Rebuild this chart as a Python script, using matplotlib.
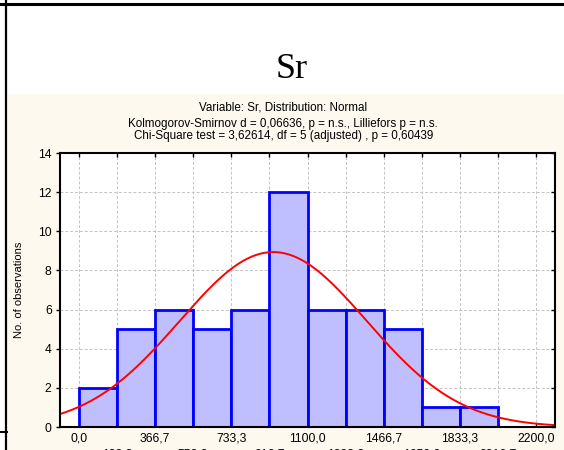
import numpy as np
import matplotlib
matplotlib.use("Agg")
import matplotlib.pyplot as plt
from matplotlib.patches import Rectangle
from matplotlib.lines import Line2D

# histogram of Sr with fitted normal curve
bin_left = [0.0, 183.33, 366.67, 550.0, 733.33, 916.67, 1100.0, 1283.33, 1466.67, 1650.0, 1833.33]
counts = [2, 5, 6, 5, 6, 12, 6, 6, 5, 1, 1]
bin_width = 183.33
fit_mean = 935.0
fit_sd = 450.0

tick_pos = [0.0, 183.33, 366.67, 550.0, 733.33, 916.67, 1100.0, 1283.33,
            1466.67, 1650.0, 1833.33, 2016.67, 2200.0]
tick_text = ["0,0", "183,3", "366,7", "550,0", "733,3", "916,7", "1100,0",
             "1283,3", "1466,7", "1650,0", "1833,3", "2016,7", "2200,0"]
y_ticks = [0, 2, 4, 6, 8, 10, 12, 14]

header = ["Variable: Sr, Distribution: Normal",
          "Kolmogorov-Smirnov d = 0,06636, p = n.s., Lilliefors p = n.s.",
          "Chi-Square test = 3,62614, df = 5 (adjusted) , p = 0,60439"]

plt.rcParams['font.family'] = ['Liberation Sans', 'DejaVu Sans']

fig = plt.figure(figsize=(5.64, 4.5), dpi=100)
fig.patch.set_facecolor("white")

# cream panel behind the chart
fig.patches.append(Rectangle((8 / 564, 0), 1, 1 - 94 / 450, transform=fig.transFigure,
                             facecolor="#fdf9ef", edgecolor="none", zorder=-5))
# table borders
fig.lines.append(Line2D([0, 1], [1 - 3.5 / 450, 1 - 3.5 / 450], transform=fig.transFigure,
                        color="black", lw=2.2))
fig.lines.append(Line2D([6 / 564, 6 / 564], [0, 1], transform=fig.transFigure,
                        color="black", lw=1.6))
fig.lines.append(Line2D([0, 7 / 564], [1 - 432 / 450, 1 - 432 / 450], transform=fig.transFigure,
                        color="black", lw=1.4))

fig.text(0.518, 1 - 70 / 450, "Sr", family="Liberation Serif", fontsize=26,
         ha="center", va="center")
fig.text(0.502, 1 - 108 / 450, header[0], fontsize=8.4, ha="center", va="center")
fig.text(0.502, 1 - 124.5 / 450, header[1], fontsize=8.4, ha="center", va="center")
fig.text(0.502, 1 - 136.5 / 450, header[2], fontsize=8.4, ha="center", va="center")

ax = fig.add_axes([60 / 564, 1 - 427 / 450, 495 / 564, 274 / 450], zorder=2)
ax.set_facecolor("white")

ax.bar(bin_left, counts, width=bin_width, align="edge", color="#bfbfff",
       edgecolor="#0000ff", linewidth=2.0, zorder=2)

xs = np.linspace(-91.67, 2291.67, 400)
pdf = np.exp(-0.5 * ((xs - fit_mean) / fit_sd) ** 2) / (fit_sd * np.sqrt(2 * np.pi))
ax.plot(xs, pdf * sum(counts) * bin_width, color="red", lw=1.4, zorder=3)

ax.set_xlim(-91.67, 2291.67)
ax.set_ylim(0, 14)
ax.set_xticks(tick_pos)
ax.set_xticklabels([t if i % 2 == 0 else "\n" + t for i, t in enumerate(tick_text)],
                   fontsize=8.7, linespacing=1.4)
ax.set_yticks(y_ticks)
ax.set_yticklabels([str(v) for v in y_ticks], fontsize=8.7)
ax.tick_params(axis="x", direction="in", length=3, width=1, top=True, pad=4)
ax.tick_params(axis="y", direction="out", length=3, width=1, pad=3, right=True)
for t in ax.yaxis.get_ticklines()[1::2]:
    t.set_marker(0)

ax.grid(True, color="#c4c4c4", linestyle=(0, (3, 2)), linewidth=0.7, zorder=1)
ax.set_axisbelow(True)
for s in ax.spines.values():
    s.set_linewidth(1.5)
    s.set_zorder(4)

ax.set_ylabel("No. of observations", fontsize=8, labelpad=10)

fig.savefig("out.png", dpi=100, facecolor=fig.get_facecolor())
